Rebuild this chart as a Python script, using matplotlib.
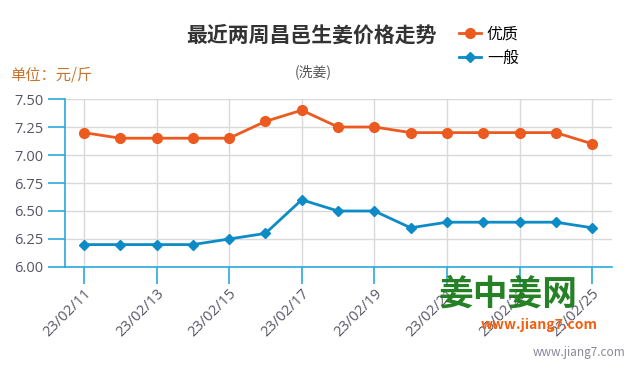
import matplotlib.pyplot as plt

plt.rcParams['font.family'] = ['Noto Sans CJK SC', 'DejaVu Sans']

# Dates (2023-02-11 .. 2023-02-25)
dates = ['23/02/%02d' % d for d in range(11, 26)]
premium = [7.20, 7.15, 7.15, 7.15, 7.15, 7.30, 7.40, 7.25, 7.25, 7.20, 7.20, 7.20, 7.20, 7.20, 7.10]
normal = [6.20, 6.20, 6.20, 6.20, 6.25, 6.30, 6.60, 6.50, 6.50, 6.35, 6.40, 6.40, 6.40, 6.40, 6.35]
yticks = [6.00, 6.25, 6.50, 6.75, 7.00, 7.25, 7.50]

orange = '#ec5a1f'
blue = '#0c8bc6'
axis_blue = '#2aa8dc'

fig = plt.figure(figsize=(6.35, 3.7), dpi=100)
ax = fig.add_axes([0.1024, 0.2784, 0.8616, 0.454])

x = list(range(len(dates)))
ax.plot(x, premium, color=orange, lw=2, marker='o', ms=7, label='优质', zorder=3)
ax.plot(x, normal, color=blue, lw=2, marker='D', ms=5.5, label='一般', zorder=3)

ax.set_xlim(-0.52, 14.55)
ax.set_ylim(6.0, 7.5)
ax.set_yticks(yticks)
ax.set_yticklabels(['%.2f' % v for v in yticks], family=['Open Sans', 'DejaVu Sans'])
ax.set_xticks(x[::2])
ax.set_xticklabels(dates[::2], rotation=45, ha='right', va='top',
                   rotation_mode='anchor', family=['Open Sans', 'DejaVu Sans'])

ax.grid(True, color='#d9d9d9', lw=1)
ax.set_axisbelow(True)
for s in ['top', 'right']:
    ax.spines[s].set_visible(False)
for s in ['left', 'bottom']:
    ax.spines[s].set_color(axis_blue)
    ax.spines[s].set_linewidth(1.2)
ax.tick_params(axis='both', colors=axis_blue, length=12, width=1.2,
               labelcolor='#555566', labelsize=10.5)
ax.tick_params(axis='x', labelsize=10.5, pad=2)

fig.text(0.49, 0.905, '最近两周昌邑生姜价格走势', ha='center', va='center',
         fontsize=15, fontweight='bold', color='#333333')
fig.text(0.493, 0.805, '(洗姜)', ha='center', va='center', fontsize=10, color='#555555')
fig.text(0.016, 0.797, '单位：元/斤', ha='left', va='center', fontsize=11, color='#c8742e')

leg = fig.legend(loc='upper left', bbox_to_anchor=(0.70, 0.97), frameon=False,
                 fontsize=11.5, handlelength=1.4, handletextpad=0.35, labelspacing=0.45)

# watermark
fig.text(0.69, 0.205, '姜中姜网', ha='left', va='center', fontsize=25,
         fontweight='bold', color='#1a7a1a', alpha=0.95)
fig.text(0.757, 0.122, 'www.jiang7.com', ha='left', va='center', fontsize=10,
         fontweight='bold', color='#f06010', style='italic')
fig.text(0.985, 0.048, 'www.jiang7.com', ha='right', va='center', fontsize=8.5,
         color='#888899')

fig.savefig('out.png', dpi=100)
